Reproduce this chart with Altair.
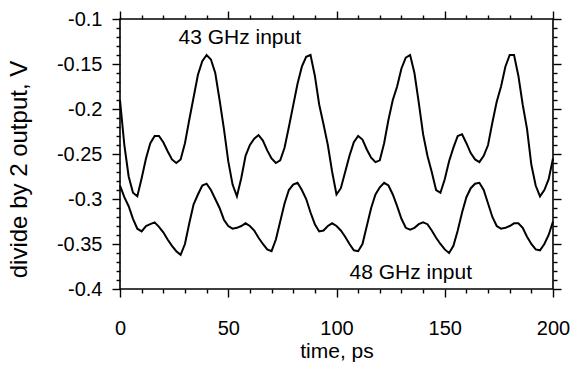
import altair as alt
import pandas as pd

# time axis (ps), sampled every 2 ps
time_ps = list(range(0, 201, 2))

# 43 GHz input trace (V)
v43 = [
    -0.190, -0.240, -0.275, -0.293, -0.297, -0.277, -0.255, -0.238, -0.230, -0.230,
    -0.237, -0.247, -0.256, -0.260, -0.256, -0.238, -0.212, -0.187, -0.162, -0.147,
    -0.140, -0.145, -0.160, -0.190, -0.222, -0.258, -0.284, -0.297, -0.277, -0.252,
    -0.240, -0.233, -0.229, -0.235, -0.246, -0.255, -0.260, -0.257, -0.243, -0.220,
    -0.196, -0.172, -0.153, -0.142, -0.140, -0.163, -0.195, -0.217, -0.240, -0.270,
    -0.295, -0.288, -0.270, -0.252, -0.237, -0.230, -0.234, -0.245, -0.254, -0.259,
    -0.257, -0.238, -0.212, -0.190, -0.175, -0.155, -0.143, -0.140, -0.160, -0.193,
    -0.228, -0.252, -0.270, -0.290, -0.293, -0.278, -0.258, -0.243, -0.230, -0.228,
    -0.238, -0.249, -0.256, -0.259, -0.252, -0.240, -0.215, -0.192, -0.175, -0.153,
    -0.140, -0.140, -0.163, -0.195, -0.222, -0.262, -0.285, -0.297, -0.290, -0.278,
    -0.255,
]

# 48 GHz input trace (V)
v48 = [
    -0.285, -0.298, -0.308, -0.322, -0.333, -0.336, -0.330, -0.328, -0.326, -0.331,
    -0.337, -0.345, -0.352, -0.358, -0.362, -0.350, -0.327, -0.306, -0.295, -0.285,
    -0.283, -0.290, -0.300, -0.310, -0.323, -0.330, -0.333, -0.332, -0.330, -0.327,
    -0.330, -0.335, -0.343, -0.350, -0.356, -0.358, -0.345, -0.325, -0.305, -0.290,
    -0.284, -0.282, -0.290, -0.300, -0.315, -0.328, -0.336, -0.335, -0.330, -0.327,
    -0.330, -0.335, -0.342, -0.350, -0.357, -0.358, -0.350, -0.330, -0.310, -0.295,
    -0.287, -0.282, -0.285, -0.295, -0.308, -0.322, -0.332, -0.334, -0.332, -0.328,
    -0.326, -0.328, -0.335, -0.343, -0.350, -0.356, -0.360, -0.352, -0.335, -0.315,
    -0.298, -0.288, -0.283, -0.282, -0.290, -0.305, -0.320, -0.330, -0.333, -0.332,
    -0.330, -0.327, -0.327, -0.332, -0.342, -0.350, -0.356, -0.357, -0.350, -0.340,
    -0.325,
]

series_names = ["43 GHz input", "48 GHz input"]
label_t = [27, 106]
label_v = [-0.128, -0.389]

x_ticks = list(range(0, 201, 10))
y_ticks = [round(-0.4 + 0.01 * i, 2) for i in range(31)]

df = pd.DataFrame({
    "t": time_ps + time_ps,
    "v": v43 + v48,
    "series": [series_names[0]] * len(time_ps) + [series_names[1]] * len(time_ps),
})
labels_df = pd.DataFrame({"t": label_t, "v": label_v, "text": series_names})

xscale = alt.Scale(domain=[0, 200], nice=False, zero=False)
yscale = alt.Scale(domain=[-0.4, -0.1], nice=False, zero=False)

major_x = "datum.value % 50 === 0"
major_y = "abs(round(datum.value * 100)) % 5 === 0"
tick_x = alt.condition(major_x, alt.value(8), alt.value(4))
tick_y = alt.condition(major_y, alt.value(8), alt.value(4))

x_bottom = alt.Axis(
    orient="bottom", values=x_ticks, tickSize=tick_x,
    labelExpr=f"{major_x} ? datum.label : ''",
    labelFontSize=20, labelPadding=21, labelFlush=False, labelOverlap=False,
    title="time, ps", titleFontSize=21, titleY=51, titleBaseline="top",
    domain=False, grid=False,
)
y_left = alt.Axis(
    orient="left", values=y_ticks, tickSize=tick_y,
    labelExpr=f"{major_y} ? ((datum.value < 0 ? '-' : '') + format(abs(datum.value), '.2~f')) : ''",
    labelFontSize=20, labelPadding=10, labelFlush=False, labelOverlap=False,
    title="divide by 2 output, V", titleFontSize=24, titleAngle=270,
    titleX=-101, titleY=150, titleAlign="center", titleBaseline="middle",
    domain=False, grid=False,
)
x_top = alt.Axis(orient="top", values=x_ticks, tickSize=tick_x, labels=False,
                 title=None, domain=False, grid=False)
y_right = alt.Axis(orient="right", values=y_ticks, tickSize=tick_y, labels=False,
                   title=None, domain=False, grid=False)

lines = alt.Chart(df).mark_line(color="black", strokeWidth=2).encode(
    x=alt.X("t:Q", scale=xscale, axis=x_bottom),
    y=alt.Y("v:Q", scale=yscale, axis=y_left),
    detail="series:N",
)

frame_axes = alt.Chart(df).mark_line(opacity=0).encode(
    x=alt.X("t:Q", scale=xscale, axis=x_top),
    y=alt.Y("v:Q", scale=yscale, axis=y_right),
    detail="series:N",
)

texts = alt.Chart(labels_df).mark_text(
    align="left", baseline="alphabetic", fontSize=21, font="Liberation Sans", color="black"
).encode(
    x=alt.X("t:Q", scale=xscale, axis=None),
    y=alt.Y("v:Q", scale=yscale, axis=None),
    text="text:N",
)

chart = alt.layer(lines, frame_axes, texts).resolve_axis(
    x="independent", y="independent"
).properties(
    width=433, height=270,
    autosize=alt.AutoSizeParams(type="none"),
    padding={"left": 120, "top": 19, "right": 24, "bottom": 78},
    background="white",
).configure_view(
    stroke="black", strokeWidth=1.6
).configure_axis(
    tickColor="black", tickWidth=1.4, labelColor="black", titleColor="black",
    labelFont="Liberation Sans", titleFont="Liberation Sans", titleFontWeight="normal",
)

chart.save("out.html", embed_options={"renderer": "svg", "actions": False})
